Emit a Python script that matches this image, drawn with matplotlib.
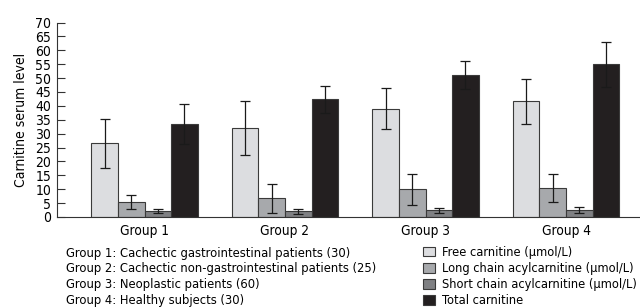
import matplotlib
matplotlib.use("Agg")
import matplotlib.pyplot as plt
import numpy as np

plt.rcParams['font.family'] = ['DejaVu Sans']
plt.rcParams['font.stretch'] = 'condensed'

groups = ["Group 1", "Group 2", "Group 3", "Group 4"]
series = ["Free carnitine (\u03bcmol/L)", "Long chain acylcarnitine (\u03bcmol/L)",
          "Short chain acylcarnitine (\u03bcmol/L)", "Total carnitine"]
free_vals = [26.5, 32.0, 39.0, 41.6]
free_err = [8.7, 9.6, 7.5, 8.2]
long_vals = [5.3, 6.8, 10.0, 10.5]
long_err = [2.5, 5.2, 5.6, 5.0]
short_vals = [2.0, 2.0, 2.4, 2.6]
short_err = [0.7, 1.0, 1.0, 1.0]
total_vals = [33.5, 42.3, 51.1, 54.9]
total_err = [7.1, 5.0, 5.1, 8.2]
group_notes = ["Group 1: Cachectic gastrointestinal patients (30)",
               "Group 2: Cachectic non-gastrointestinal patients (25)",
               "Group 3: Neoplastic patients (60)",
               "Group 4: Healthy subjects (30)"]
yticks = list(range(0, 71, 5))

colors = ["#dcdde0", "#a7a9ac", "#7f8083", "#231f20"]

W, H = 640, 307
fig = plt.figure(figsize=(W / 100, H / 100), dpi=100)
ax = fig.add_axes([57 / W, 1 - 217 / H, (640 - 57) / W, (217 - 22.5) / H])

x = np.arange(len(groups))
bw = 0.1893
vals = [free_vals, long_vals, short_vals, total_vals]
errs = [free_err, long_err, short_err, total_err]
handles = []
for i, (v, e) in enumerate(zip(vals, errs)):
    pos = x + (i - 1.5) * bw
    b = ax.bar(pos, v, width=bw, color=colors[i], edgecolor="#3a3a3a", linewidth=0.8,
               label=series[i], zorder=2)
    ax.errorbar(pos, v, yerr=e, fmt="none", ecolor="#1a1a1a", elinewidth=0.9,
                capsize=3.6, capthick=0.9, zorder=3)
    handles.append(b)

ax.set_xlim((57 - 144.5) / 140.5, (640 - 144.5) / 140.5)
ax.set_ylim(0, 70)
ax.set_yticks(yticks)
ax.set_yticklabels([str(t) for t in yticks], fontsize=10)
ax.set_xticks(x)
ax.set_xticklabels(groups, fontsize=9.8)
ax.tick_params(axis="x", length=0, pad=5)
ax.tick_params(axis="y", direction="in", length=5.5, width=0.8, color="#333333", pad=4)
for s in ["top", "right"]:
    ax.spines[s].set_visible(False)
for s in ["left", "bottom"]:
    ax.spines[s].set_color("#333333")
    ax.spines[s].set_linewidth(0.8)
ax.set_ylabel("Carnitine serum level", fontsize=10, labelpad=5)

for i, t in enumerate(group_notes):
    fig.text(66 / W, 1 - (253 + 15.7 * i) / H, t, fontsize=9.25, va="center", ha="left")

leg = fig.legend(handles=handles, labels=series, loc="upper left",
                 bbox_to_anchor=(423 / W, 1 - 246 / H), frameon=False, fontsize=9.2,
                 handlelength=0.9, handleheight=0.8, handletextpad=0.55,
                 labelspacing=0.24, borderaxespad=0, borderpad=0)

fig.savefig("out.png", dpi=100)
